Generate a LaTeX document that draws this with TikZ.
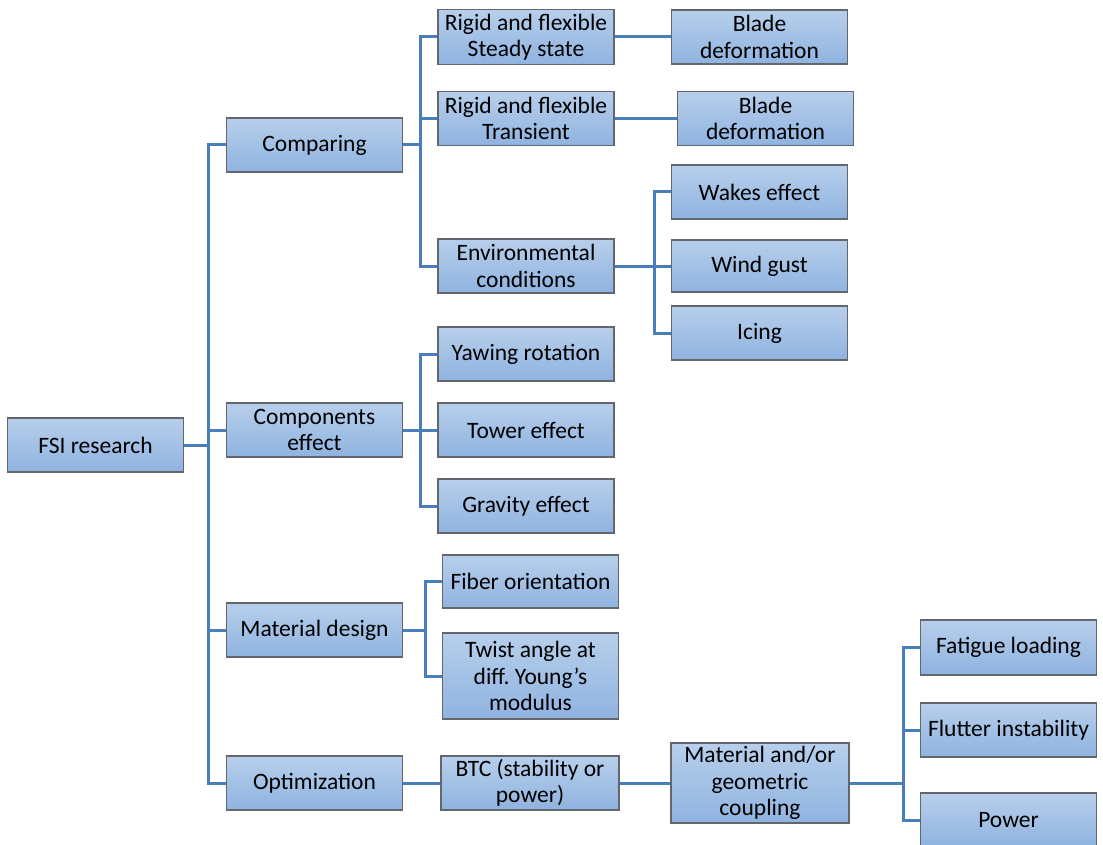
\documentclass[tikz,border=0pt]{standalone}
\usepackage{fontspec}
\setmainfont{Carlito}
\definecolor{boxtop}{HTML}{B7CFEB}
\definecolor{boxbot}{HTML}{8FB3E0}
\definecolor{boxborder}{HTML}{62676D}
\definecolor{linec}{HTML}{4A7EBB}
\begin{document}
\frenchspacing
\begin{tikzpicture}[x=1pt,y=-1pt,
  box/.style={draw=boxborder, line width=1.3pt, top color=boxtop, bottom color=boxbot,
    minimum width=176pt, minimum height=54pt, inner sep=0pt, align=center,
    font=\fontsize{23.5}{26.5}\selectfont},
  conn/.style={draw=linec, line width=3pt}]
\useasboundingbox (0,0) rectangle (1103,845);
% nodes
\node[box] (fsi) at (95.5,445) {FSI research};
\node[box] (comp) at (314.5,145) {Comparing};
\node[box] (compe) at (314.5,430) {Components\\effect};
\node[box] (mat) at (314.5,630) {Material design};
\node[box] (opt) at (314.5,783) {Optimization};
\node[box, minimum height=55pt] (rs) at (526,37) {Rigid and flexible\\Steady state};
\node[box] (rt) at (526,118.5) {Rigid and flexible\\Transient};
\node[box] (env) at (526,266) {Environmental\\conditions};
\node[box] (bd1) at (759.5,37) {Blade\\deformation};
\node[box] (bd2) at (765.5,118.5) {Blade\\deformation};
\node[box] (wake) at (759.5,192) {Wakes effect};
\node[box, minimum height=52pt] (wind) at (759.5,266) {Wind gust};
\node[box] (icing) at (759.5,333) {Icing};
\node[box] (yaw) at (526,354) {Yawing rotation};
\node[box] (tower) at (526,430) {Tower effect};
\node[box] (grav) at (526,506) {Gravity effect};
\node[box, minimum height=53pt] (fiber) at (530.5,581.5) {Fiber orientation};
\node[box, minimum height=86pt] (twist) at (530.5,676) {Twist angle at\\diff. Young’s\\modulus};
\node[box, minimum width=178pt] (btc) at (530,783) {BTC (stability or\\power)};
\node[box, minimum width=178pt, minimum height=80pt] (coup) at (760,783) {Material and/or\\geometric\\coupling};
\node[box, minimum height=55pt] (fat) at (1008.5,647.5) {Fatigue loading};
\node[box] (flut) at (1008.5,730) {Flutter instability};
\node[box] (power) at (1008.5,820) {Power};
% bus coordinates
\coordinate (b0) at (208,445);
\coordinate (b1) at (420,145);
\coordinate (b2) at (420,430);
\coordinate (b3) at (425,630);
\coordinate (b4) at (654,266);
\coordinate (b5) at (903,783);
% connectors
\draw[conn] (fsi.east) -- (b0);
\draw[conn] (comp.west) -| (b0) |- (opt.west);
\draw[conn] (compe.west) -- (b0 |- compe.west);
\draw[conn] (mat.west) -- (b0 |- mat.west);
\draw[conn] (comp.east) -- (b1);
\draw[conn] (rs.west) -| (b1) |- (env.west);
\draw[conn] (rt.west) -- (b1 |- rt.west);
\draw[conn] (rs.east) -- (bd1.west);
\draw[conn] (rt.east) -- (bd2.west);
\draw[conn] (env.east) -- (b4);
\draw[conn] (wake.west) -| (b4) |- (icing.west);
\draw[conn] (wind.west) -- (b4 |- wind.west);
\draw[conn] (compe.east) -- (b2);
\draw[conn] (yaw.west) -| (b2) |- (grav.west);
\draw[conn] (tower.west) -- (b2 |- tower.west);
\draw[conn] (mat.east) -- (b3);
\draw[conn] (fiber.west) -| (b3) |- (twist.west);
\draw[conn] (opt.east) -- (btc.west);
\draw[conn] (btc.east) -- (coup.west);
\draw[conn] (coup.east) -- (b5);
\draw[conn] (fat.west) -| (b5) |- (power.west);
\draw[conn] (flut.west) -- (b5 |- flut.west);
\end{tikzpicture}
\end{document}
